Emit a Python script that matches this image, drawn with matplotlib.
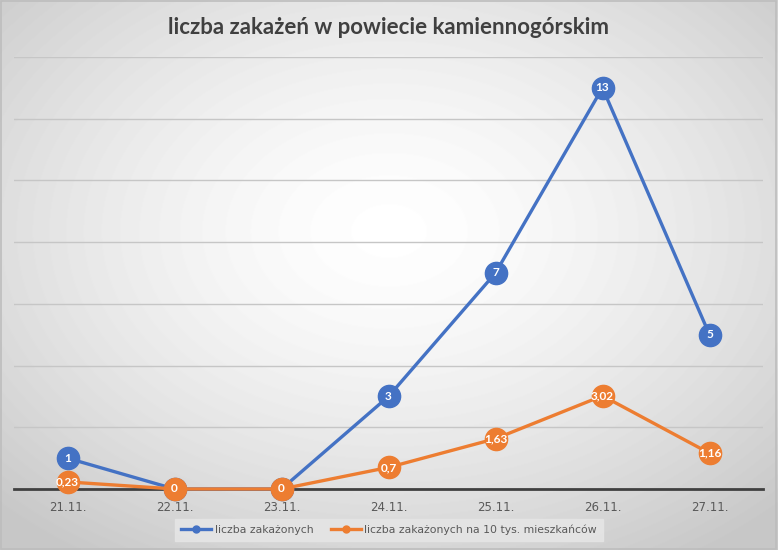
import numpy as np
import matplotlib
matplotlib.use("Agg")
import matplotlib.pyplot as plt
from matplotlib.lines import Line2D

dates = ["21.11.", "22.11.", "23.11.", "24.11.", "25.11.", "26.11.", "27.11."]
cases = [1, 0, 0, 3, 7, 13, 5]
cases_per10k = [0.23, 0, 0, 0.7, 1.63, 3.02, 1.16]
cases_labels = ["1", "0", "0", "3", "7", "13", "5"]
per10k_labels = ["0,23", "0", "0", "0,7", "1,63", "3,02", "1,16"]
series_names = ["liczba zakażonych", "liczba zakażonych na 10 tys. mieszkańców"]
title = "liczba zakażeń w powiecie kamiennogórskim"

W, H = 778, 550
fig = plt.figure(figsize=(W / 100, H / 100), dpi=100)

# radial gradient background
bg = fig.add_axes([0, 0, 1, 1])
yy, xx = np.mgrid[0:H, 0:W]
r = np.sqrt(((xx - W * 0.5) / (W * 0.6)) ** 2 + ((yy - H * 0.42) / (H * 0.6)) ** 2)
v = np.clip(1.0 - 0.17 * r ** 1.5, 0.78, 1.0)
bg.imshow(v, cmap="gray", vmin=0, vmax=1, aspect="auto", extent=[0, 1, 0, 1], origin="upper")
bg.set_axis_off()
bg.add_patch(plt.Rectangle((0.001, 0.002), 0.997, 0.996, fill=False, edgecolor="#bdbdbd", lw=1.2,
                           transform=bg.transAxes))

ax = fig.add_axes([14 / W, 1 - 489 / H, (763 - 14) / W, (489 - 57) / H])
ax.patch.set_alpha(0)
x = np.arange(len(dates))
ax.set_xlim(-0.5, len(dates) - 0.5)
ax.set_ylim(0, 14)
ax.set_yticks(np.arange(0, 15, 2))
ax.yaxis.grid(True, color="#c6c6c6", lw=1.0)
ax.set_axisbelow(True)
ax.tick_params(axis="y", left=False, labelleft=False)
ax.tick_params(axis="x", bottom=False, labelsize=8.5, labelcolor="#595959", pad=5)
ax.set_xticks(x)
ax.set_xticklabels(dates, fontfamily="DejaVu Sans")
for s in ["top", "right", "left"]:
    ax.spines[s].set_visible(False)
ax.spines["bottom"].set_color("#404040")
ax.spines["bottom"].set_linewidth(2.0)

blue = "#4472C4"
orange = "#ED7D31"
ax.plot(x, cases, color=blue, lw=2.4, marker="o", ms=16, markeredgecolor=blue, zorder=3,
        clip_on=False, label=series_names[0])
ax.plot(x, cases_per10k, color=orange, lw=2.4, marker="o", ms=16, markeredgecolor=orange, zorder=4,
        clip_on=False, label=series_names[1])
for xi, yi, t in zip(x, cases, cases_labels):
    if yi == 0:
        continue
    ax.text(xi, yi, t, color="white", ha="center", va="center", fontsize=8.5, fontweight="bold",
            fontfamily="Lato", zorder=5)
for xi, yi, t in zip(x, cases_per10k, per10k_labels):
    ax.text(xi, yi, t, color="white", ha="center", va="center", fontsize=8.5, fontweight="bold",
            fontfamily="Lato", zorder=6)

fig.text(0.5, 1 - 27 / H, title, ha="center", va="center", fontsize=16, fontweight="bold",
         fontfamily="Lato", color="#404040")

handles = [Line2D([0], [0], color=blue, lw=2.4, marker="o", ms=5),
           Line2D([0], [0], color=orange, lw=2.4, marker="o", ms=5)]
leg = fig.legend(handles, series_names, loc="center", bbox_to_anchor=(389 / W, 1 - 530 / H),
                 ncol=2, frameon=True, fontsize=7.8, handlelength=2.8, columnspacing=1.6,
                 borderpad=0.55, handletextpad=0.3)
leg.get_frame().set_facecolor("#e4e4e4")
leg.get_frame().set_edgecolor("#e4e4e4")
leg.get_frame().set_boxstyle("square", pad=0)
leg.get_frame().set_alpha(0.95)
for t in leg.get_texts():
    t.set_color("#595959")
    t.set_fontfamily("DejaVu Sans")

fig.savefig("out.png", dpi=100)
